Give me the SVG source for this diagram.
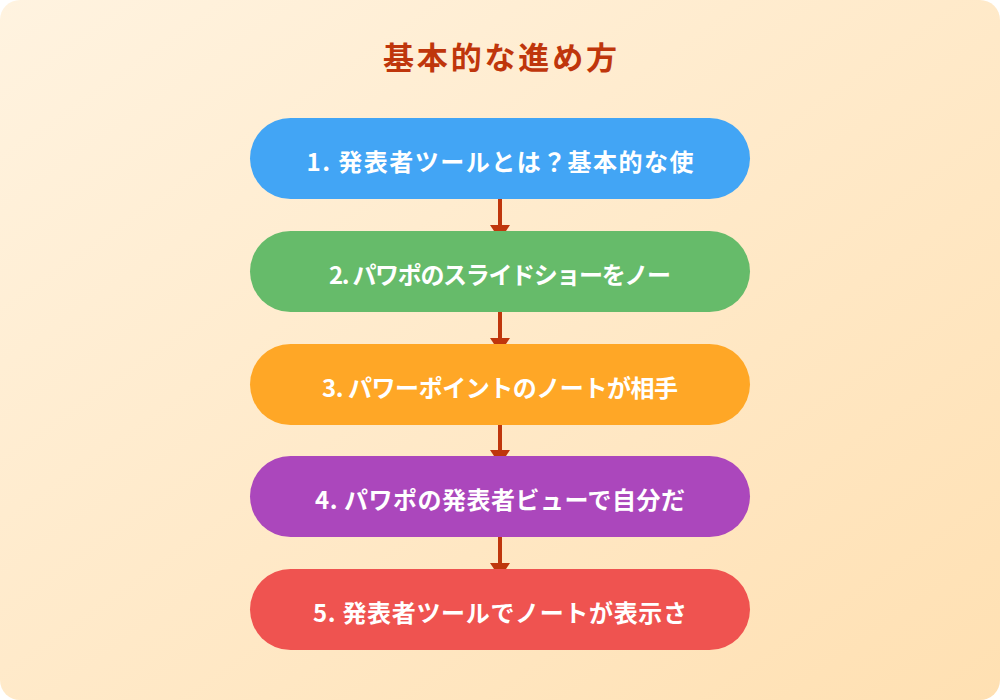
<svg xmlns="http://www.w3.org/2000/svg" width="1000" height="700" viewBox="0 0 1000 700">
<defs>
<linearGradient id="bg" x1="0" y1="0" x2="1" y2="1">
<stop offset="0" stop-color="#fff3e0"/>
<stop offset="1" stop-color="#ffe0b2"/>
</linearGradient>
<style>
.t{font-family:"Noto Sans CJK JP","Noto Sans",sans-serif;font-weight:bold;fill:#fff;font-size:24px;text-anchor:middle;dominant-baseline:central}
.title{font-family:"Noto Sans CJK JP","Noto Sans",sans-serif;font-weight:bold;fill:#bf360c;font-size:31px;text-anchor:middle;dominant-baseline:central}
.c{stroke:#bf360c;stroke-width:4;fill:none}
.h{fill:#bf360c}
</style>
</defs>
<rect x="0" y="0" width="1000" height="700" rx="20" fill="url(#bg)"/>
<text class="title" x="500" y="55" textLength="234" lengthAdjust="spacing">基本的な進め方</text>
<g id="connectors">
<line class="c" x1="500" y1="199" x2="500" y2="226"/>
<path class="h" d="M490,225 L510,225 L506,231 L494,231 Z"/>
<line class="c" x1="500" y1="312" x2="500" y2="339"/>
<path class="h" d="M490,338 L510,338 L506,344 L494,344 Z"/>
<line class="c" x1="500" y1="425" x2="500" y2="451"/>
<path class="h" d="M490,450 L510,450 L506,456 L494,456 Z"/>
<line class="c" x1="500" y1="537" x2="500" y2="564"/>
<path class="h" d="M490,563 L510,563 L506,569 L494,569 Z"/>
</g>
<g id="step1">
<rect x="250" y="118" width="500" height="81" rx="40.5" fill="#42a5f5"/>
<text class="t" x="500" y="160" textLength="387" lengthAdjust="spacing">1. 発表者ツールとは？基本的な使</text>
</g>
<g id="step2">
<rect x="250" y="231" width="500" height="81" rx="40.5" fill="#66bb6a"/>
<text class="t" x="500" y="273" textLength="342" lengthAdjust="spacing">2. パワポのスライドショーをノー</text>
</g>
<g id="step3">
<rect x="250" y="344" width="500" height="81" rx="40.5" fill="#ffa726"/>
<text class="t" x="500" y="386" textLength="356" lengthAdjust="spacing">3. パワーポイントのノートが相手</text>
</g>
<g id="step4">
<rect x="250" y="456" width="500" height="81" rx="40.5" fill="#ab47bc"/>
<text class="t" x="500" y="498" textLength="370" lengthAdjust="spacing">4. パワポの発表者ビューで自分だ</text>
</g>
<g id="step5">
<rect x="250" y="569" width="500" height="81" rx="40.5" fill="#ef5350"/>
<text class="t" x="500" y="611" textLength="374" lengthAdjust="spacing">5. 発表者ツールでノートが表示さ</text>
</g>
</svg>
